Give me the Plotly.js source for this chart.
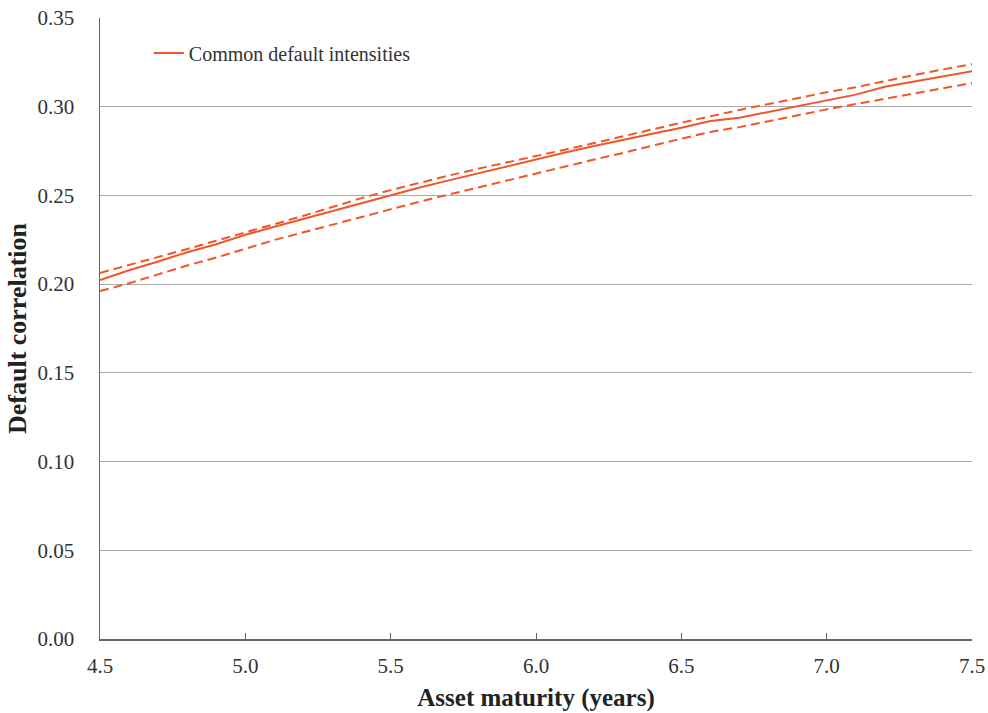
<!DOCTYPE html>
<html>
<head>
<meta charset="utf-8">
<script src="https://cdn.plot.ly/plotly-3.0.1.min.js"></script>
<style>html,body{margin:0;padding:0;background:#fff;}#chart{width:988px;height:713px;}</style>
</head>
<body>
<div id="chart"></div>
<script>
const maturity = [4.5,4.6,4.7,4.8,4.9,5.0,5.1,5.2,5.3,5.4,5.5,5.6,5.7,5.8,5.9,6.0,6.1,6.2,6.3,6.4,6.5,6.6,6.7,6.8,6.9,7.0,7.1,7.2,7.3,7.4,7.5];
const corrMid = [0.2023,0.2078,0.2128,0.2180,0.2225,0.2278,0.2323,0.2368,0.2412,0.2458,0.2502,0.2545,0.2585,0.2625,0.2662,0.2705,0.2742,0.2778,0.2815,0.2848,0.2882,0.2920,0.2938,0.2970,0.3002,0.3032,0.3068,0.3112,0.3140,0.3168,0.3200];
const corrUpper = [0.2063,0.2108,0.2150,0.2198,0.2245,0.2290,0.2338,0.2385,0.2435,0.2485,0.2530,0.2572,0.2612,0.2650,0.2685,0.2722,0.2758,0.2795,0.2835,0.2872,0.2910,0.2948,0.2982,0.3015,0.3050,0.3082,0.3110,0.3145,0.3178,0.3210,0.3240];
const corrLower = [0.1961,0.2005,0.2055,0.2105,0.2150,0.2200,0.2249,0.2292,0.2335,0.2380,0.2425,0.2465,0.2505,0.2545,0.2585,0.2625,0.2665,0.2702,0.2740,0.2782,0.2820,0.2858,0.2885,0.2918,0.2952,0.2985,0.3015,0.3045,0.3075,0.3105,0.3134];
const xTicks = [4.5,5.0,5.5,6.0,6.5,7.0,7.5];
const xTickText = ['4.5','5.0','5.5','6.0','6.5','7.0','7.5'];
const yTicks = [0,0.05,0.10,0.15,0.20,0.25,0.30,0.35];
const yTickText = ['0.00','0.05','0.10','0.15','0.20','0.25','0.30','0.35'];
const seriesName = 'Common default intensities';

const col = '#f0562a';
const font = 'Liberation Serif, Times New Roman, serif';
const traces = [
  {x: maturity, y: corrMid, type:'scatter', mode:'lines', name: seriesName, line:{color:col, width:2}, showlegend:true},
  {x: maturity, y: corrUpper, type:'scatter', mode:'lines', name:'upper', line:{color:col, width:2, dash:'9px,5px'}, showlegend:false},
  {x: maturity, y: corrLower, type:'scatter', mode:'lines', name:'lower', line:{color:col, width:2, dash:'9px,5px'}, showlegend:false}
];
const layout = {
  width:988, height:713,
  margin:{l:100, r:16, t:18, b:74},
  paper_bgcolor:'#fff', plot_bgcolor:'#fff',
  font:{family:font, color:'#333', size:21},
  showlegend:true,
  legend:{x:0.056, y:0.975, xanchor:'left', yanchor:'top', bgcolor:'rgba(0,0,0,0)', font:{family:font, size:20, color:'#333'}, itemwidth:30},
  xaxis:{
    range:[4.5,7.5], tickvals:xTicks, ticktext:xTickText,
    showgrid:false, zeroline:false, showline:true, linecolor:'#666', linewidth:1.5,
    ticks:'inside', ticklen:6, tickcolor:'#666', ticklabelstandoff:7,
    tickfont:{family:font, size:21, color:'#333'},
    title:{text:'<b>Asset maturity (years)</b>', font:{family:font, size:25, color:'#222'}, standoff:12}
  },
  yaxis:{
    range:[0,0.35], tickvals:yTicks, ticktext:yTickText,
    showgrid:true, gridcolor:'#aaa', gridwidth:1, zeroline:false,
    showline:true, linecolor:'#666', linewidth:1.5, ticks:'', ticklabelstandoff:20,
    tickfont:{family:font, size:21, color:'#333'},
    title:{text:'<b>Default correlation</b>', font:{family:font, size:26, color:'#222'}, standoff:3}
  }
};
Plotly.newPlot('chart', traces, layout, {displayModeBar:false, staticPlot:true});
</script>
</body>
</html>
